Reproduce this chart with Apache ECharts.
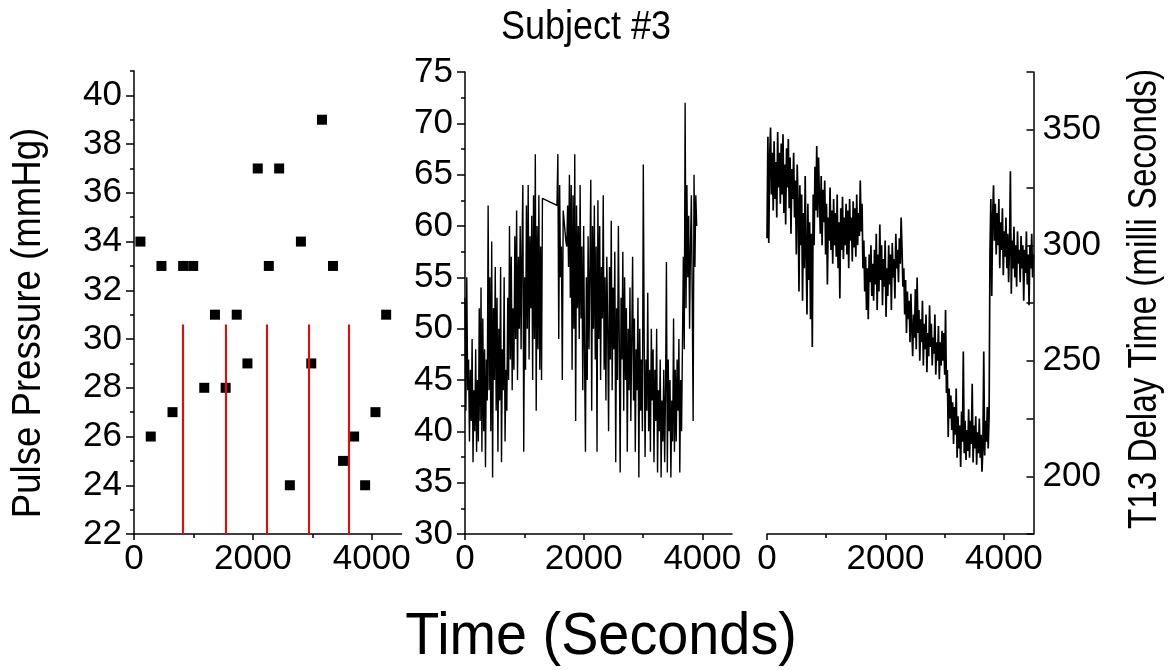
<!DOCTYPE html>
<html><head><meta charset="utf-8">
<script src="https://cdn.jsdelivr.net/npm/echarts@6/dist/echarts.min.js"></script>
<style>html,body{margin:0;padding:0;background:#fff}#c{width:1169px;height:670px}</style>
</head><body><div id="c"></div>
<script>
// ---------- data ----------
const ppTimes  = [108,282,462,648,827,996,1182,1362,1542,1728,1908,2082,2268,2442,2622,2808,2982,3162,3348,3517,3703,3888,4062,4242];
const ppValues = [34,26,33,27,33,33,28,31,28,31,29,37,33,37,24,34,29,39,33,25,26,24,27,31];
const eventTimes = [827,1542,2240,2932,3607];
const eventLineTop = 30.6;

const midStep = 15;
const midStartA = 0;
const midValuesA = [53,42,55,44,47,39,46,41,49,37,44,40,48,38,
 45,39,52,41,54,38,51,40,48,36.5,47,43,62,
 44,55,40,58.5,35.5,52,45,56,42,53,38,50,43,56,
 37,48,44,55,39,46,42,53,45,60,47,57,44,
 52,46,59,49,61.5,45,57,50,60,48,58,64,38,
 55,46,62,50,64,47,59,52,61,45,63,49,67,42,
 60,48,63,46,58,45,62.7];
const midStartB = 1550;
const midValuesB = [62,67,49,64,55,58,45,61.5,60.5,59.5,
 58.5,58,62,56,65,53,64,46,63,50,
 67,41,62,52,60,49,64,51,58,44,
 60,47,38,55,45,59,48,56,64.5,42,
 60,50,62,47,58,38,62.5,49,60,45,
 56,51,63,46,55,43,57,50,40,56,
 47,60.5,44,54,48,57.5,37,52,45,60,
 49,36,53,47,57.5,42,55,45,52,38,
 50,44,54,41,49,57,43,51,38,48,
 44,53,35.5,50,42,47,40,66,49,37.5,
 47,42,53.5,40,46,38,50,43,48,37,
 46,41,50,36,44,40,47,35.5,43,39,
 46,37,44,56.5,36,47,40,45,35.5,43,
 39,51,38,46,39,47,42,49,36,45,
 40,48.5,57,48,72,52,64,55,61,50,
 58,63,53,41,65,56,63,60];

const t13Start = 0;
const t13Step = 15;
const t13Values = [
 303,347,301,338,351,322,340,315,345,320,336,312,349,325,340,
 318,344,322,348,314,335,309,342,325,346,316,338,305,333,320,
 340,312,328,296,335,318,280,326,300,322,276,314,290,330,297,
 270,318,285,310,268,305,256,322,300,334,315,343,312,338,320,
 305,330,300,324,310,328,296,318,283,312,302,325,298,315,292,
 320,300,314,295,322,290,310,277,316,298,321,294,312,300,318,
 296,315,290,320,302,312,293,319,299,316,295,322,300,314,304,
 328,306,318,290,302,280,295,272,290,268,296,284,300,278,292,
 276,298,283,305,272,296,280,309,285,300,274,294,282,302,269,
 290,278,300,283,296,272,301,286,294,277,305,290,298,284,303,
 292,312,298,282,290,270,285,262,280,268,276,258,279,264,252,
 270,260,281,255,286,262,272,250,268,258,276,248,266,255,270,
 245,262,252,274,256,266,248,260,253,270,244,258,250,265,242,
 258,248,263,250,262,244,272,236,246,217,238,225,235,220,232,
 214,230,218,238,208,226,212,222,204,228,215,254,210,224,207,
 220,211,229,208,224,214,240,206,222,212,226,205,219,210,225,
 208,218,202,212,254,209,224,215,230,212,226,297,320,278,312,
 326,302,318,296,314,300,320,290,310,298,316,287,306,295,312,
 290,305,284,300,332,279,302,290,308,286,300,282,306,292,298,
 284,304,290,300,276,298,288,306,283,296,274,300,290,305,286,
 296];

// tick / label values
const timeRange = [0, 4500];
const timeTicksMajor = [0,2000,4000];
const timeTicksMinor = [1000,3000];
const ppRange = [22, 41];
const ppTicksMajor = [22,24,26,28,30,32,34,36,38,40];
const ppTicksMinor = [23,25,27,29,31,33,35,37,39,41];
const midRange = [30, 75];
const midTicksMajor = [30,35,40,45,50,55,60,65,70,75];
const midTicksMinor = [32.5,37.5,42.5,47.5,52.5,57.5,62.5,67.5,72.5];
const t13Range = [175, 375];
const t13Ticks = [175,200,225,250,275,300,325,350,375];
const t13Labels = [200,250,300,350];

const texts = {
  title: 'Subject #3',
  xName: 'Time (Seconds)',
  yLeft: 'Pulse Pressure (mmHg)',
  yRight: 'T13 Delay Time (milli Seconds)'
};

// ---------- build ----------
const FONT = "'Liberation Sans', Arial, sans-serif";
const BLACK = '#000';
function pairs(start, step, vals){ return vals.map((v,i)=>[start+i*step, v]); }
const midData = pairs(midStartA, midStep, midValuesA).concat(pairs(midStartB, midStep, midValuesB));
const t13Data = pairs(t13Start, t13Step, t13Values);

function axisMain(grid, range, ticks, labels, o){
  o = o || {};
  return {
    type: 'value', gridIndex: grid, min: range[0], max: range[1],
    position: o.position,
    axisLine: {show: true, onZero: false, lineStyle: {color: BLACK, width: 1.5}},
    axisTick: {show: true, customValues: ticks, length: o.tickLen || 7, inside: !!o.inside, lineStyle: {color: BLACK, width: 1.5}},
    axisLabel: {show: true, customValues: labels, formatter: v => String(v), color: BLACK,
      fontSize: 35, fontFamily: FONT, margin: o.margin || 8},
    splitLine: {show: false}
  };
}
function axisMinor(grid, range, ticks, o){
  o = o || {};
  return {
    type: 'value', gridIndex: grid, min: range[0], max: range[1],
    position: o.position,
    axisLine: {show: false, onZero: false},
    axisTick: {show: true, customValues: ticks, length: o.tickLen || 4, inside: !!o.inside, lineStyle: {color: BLACK, width: 1.5}},
    axisLabel: {show: false},
    splitLine: {show: false}
  };
}

const option = {
  animation: false,
  backgroundColor: '#fff',
  grid: [
    {left: 134, top: 71, width: 267.5, height: 463},
    {left: 465, top: 72, width: 267, height: 462},
    {left: 767, top: 72, width: 266.5, height: 462}
  ],
  xAxis: [
    axisMain(0, timeRange, timeTicksMajor, timeTicksMajor, {position: 'bottom', tickLen: 6, margin: 8}),
    axisMinor(0, timeRange, timeTicksMinor, {position: 'bottom', tickLen: 4}),
    axisMain(1, timeRange, timeTicksMajor, timeTicksMajor, {position: 'bottom', tickLen: 6, margin: 8}),
    axisMinor(1, timeRange, timeTicksMinor, {position: 'bottom', tickLen: 4}),
    axisMain(2, timeRange, timeTicksMajor, timeTicksMajor, {position: 'bottom', tickLen: 6, margin: 8}),
    axisMinor(2, timeRange, timeTicksMinor, {position: 'bottom', tickLen: 4})
  ],
  yAxis: [
    axisMain(0, ppRange, ppTicksMajor, ppTicksMajor, {position: 'left', tickLen: 8, margin: 12}),
    axisMinor(0, ppRange, ppTicksMinor, {position: 'left', tickLen: 4}),
    axisMain(1, midRange, midTicksMajor, midTicksMajor, {position: 'left', tickLen: 8, margin: 12}),
    axisMinor(1, midRange, midTicksMinor, {position: 'left', tickLen: 4}),
    axisMain(2, t13Range, t13Ticks, t13Labels, {position: 'right', tickLen: 7, inside: true, margin: 9})
  ],
  series: [
    {
      type: 'scatter', xAxisIndex: 0, yAxisIndex: 0,
      data: ppTimes.map((t,i)=>[t, ppValues[i]]),
      symbol: 'rect', symbolSize: 10, itemStyle: {color: BLACK, opacity: 1},
      z: 2,
      markLine: {
        silent: true, symbol: ['none','none'], z: 5,
        label: {show: false},
        lineStyle: {color: '#ff0000', width: 2, type: 'solid', opacity: 1},
        emphasis: {disabled: true},
        data: eventTimes.map(t => [{coord: [t, ppRange[0]]}, {coord: [t, eventLineTop]}])
      }
    },
    {
      type: 'line', xAxisIndex: 2, yAxisIndex: 2,
      data: midData, showSymbol: false, symbol: 'none',
      lineStyle: {color: BLACK, width: 1.4}
    },
    {
      type: 'line', xAxisIndex: 4, yAxisIndex: 4,
      data: t13Data, showSymbol: false, symbol: 'none',
      lineStyle: {color: BLACK, width: 1.7}
    }
  ],
  graphic: [
    {type: 'text', x: 586, y: 28, scaleX: 0.9,
      style: {text: texts.title, font: '40px ' + FONT, fill: BLACK, align: 'center', verticalAlign: 'middle'}},
    {type: 'text', x: 601, y: 637, scaleX: 0.93,
      style: {text: texts.xName, font: '60px ' + FONT, fill: BLACK, align: 'center', verticalAlign: 'middle'}},
    {type: 'text', x: 29, y: 323, rotation: Math.PI/2, scaleX: 0.915,
      style: {text: texts.yLeft, font: '40px ' + FONT, fill: BLACK, align: 'center', verticalAlign: 'middle'}},
    {type: 'text', x: 1145, y: 299, rotation: Math.PI/2, scaleX: 0.83,
      style: {text: texts.yRight, font: '40px ' + FONT, fill: BLACK, align: 'center', verticalAlign: 'middle'}}
  ]
};
const chart = echarts.init(document.getElementById('c'), null, {renderer: 'canvas'});
chart.setOption(option);
</script>
</body></html>
